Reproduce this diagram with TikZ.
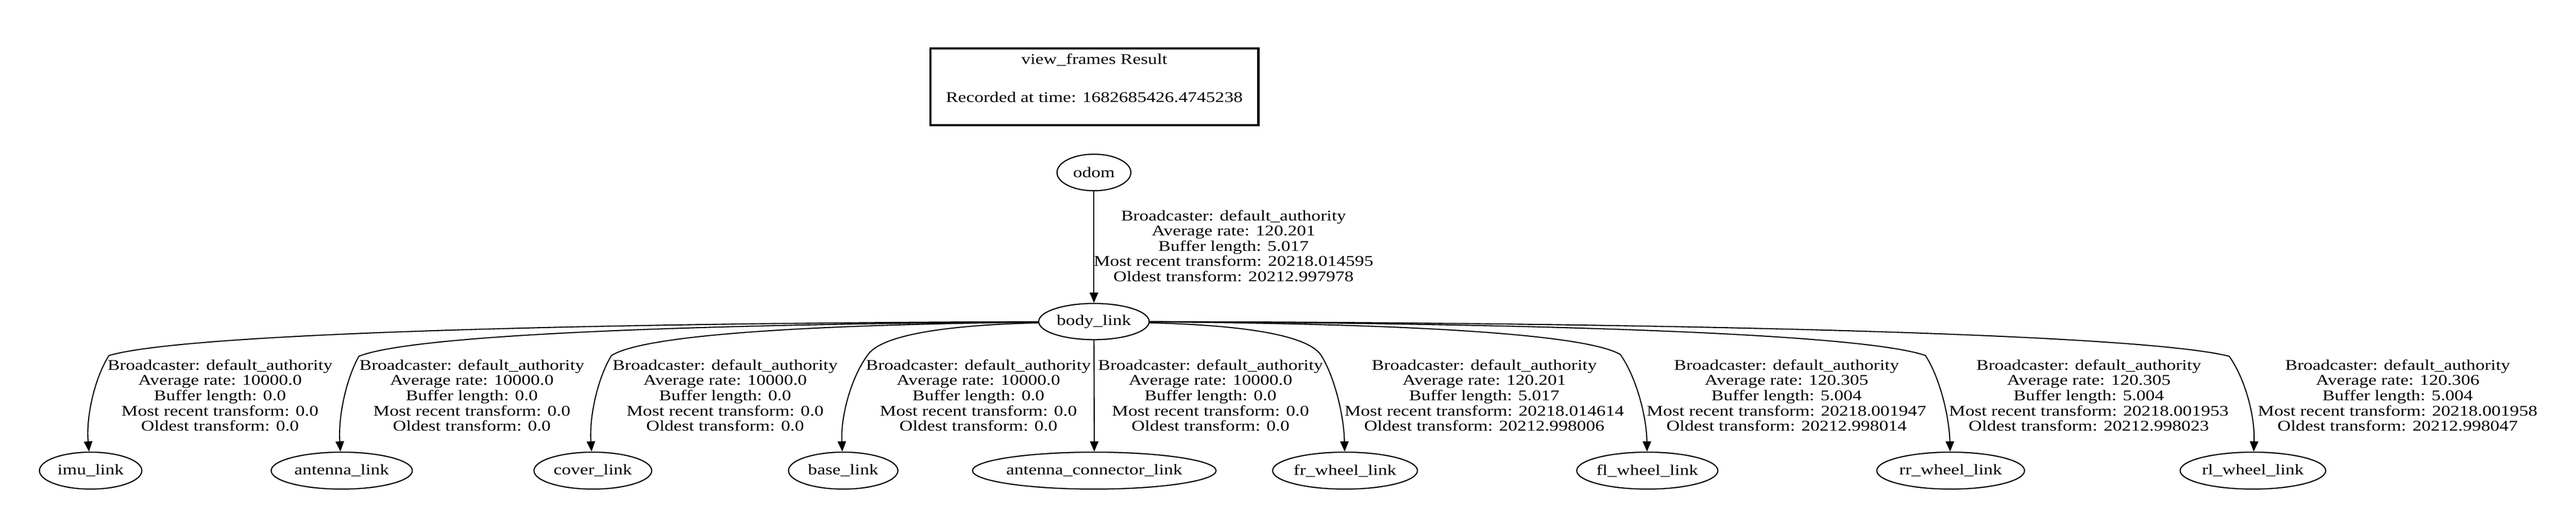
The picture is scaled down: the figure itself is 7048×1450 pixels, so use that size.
\documentclass[tikz,border=0pt]{standalone}
\usepackage{fontspec}
\setmainfont{Liberation Serif}[FakeStretch=1.24]
\usetikzlibrary{arrows.meta,shapes.geometric}
\begin{document}
\begin{tikzpicture}[x=0.01cm,y=-0.01cm,
  txt/.style={font=\fontsize{11.5}{11.85}\selectfont},
  lnk/.style={ellipse,draw,line width=0.9pt,inner sep=0pt,minimum height=1.01cm,minimum width=#1,txt},
  lbl/.style={txt,align=center,inner sep=0pt},
  tfedge/.style={line width=0.85pt,-{Triangle[length=0.28cm,width=0.23cm]}}]
\useasboundingbox (0,0) rectangle (7048,1450);
% title box
\node[draw,line width=1.7pt,minimum width=8.97cm,minimum height=2.09cm,inner sep=0pt] (title) at (2994,237.5) {};
\node[txt] (t1) at (2994,164) {view\_frames Result};
\node[txt] (t2) at (2994,266) {Recorded at time: 1682685426.4745238};
% nodes
\node[lnk=2.02cm,minimum height=1.0cm] (odom) at (2993,472) {\makebox[0pt]{odom}};
\node[lnk=3.02cm,minimum height=0.99cm] (body) at (2993,880) {\makebox[0pt]{body\_link}};
\node[lnk=2.80cm] (imu) at (248,1288) {\makebox[0pt]{imu\_link}};
\node[lnk=3.86cm] (ant) at (935,1288) {\makebox[0pt]{antenna\_link}};
\node[lnk=3.22cm] (cover) at (1622,1288) {\makebox[0pt]{cover\_link}};
\node[lnk=2.99cm] (base) at (2307,1288) {\makebox[0pt]{base\_link}};
\node[lnk=6.66cm] (acl) at (2994,1288) {\makebox[0pt]{antenna\_connector\_link}};
\node[lnk=3.96cm] (fr) at (3680,1288) {\makebox[0pt]{fr\_wheel\_link}};
\node[lnk=3.86cm] (fl) at (4507,1288) {\makebox[0pt]{fl\_wheel\_link}};
\node[lnk=4.04cm] (rr) at (5337,1288) {\makebox[0pt]{rr\_wheel\_link}};
\node[lnk=3.98cm] (rl) at (6164,1288) {\makebox[0pt]{rl\_wheel\_link}};
% edges
\draw[tfedge] (odom) -- (body);
\draw[tfedge] (body) -- (acl);
\draw[tfedge] (body) .. controls (1570,884) and (502,913) .. (298,973) .. controls (260,1033) and (235,1138) .. (imu);
\draw[tfedge] (body) .. controls (1912,887) and (1131,915) .. (982,975) .. controls (948,1035) and (925,1138) .. (ant);
\draw[tfedge] (body) .. controls (2259,888) and (1767,913) .. (1673,973) .. controls (1636,1033) and (1612,1138) .. (cover);
\draw[tfedge] (body) .. controls (2610,889) and (2411,913) .. (2373,973) .. controls (2329,1033) and (2300,1138) .. (base);
\draw[tfedge] (body) .. controls (3378,889) and (3577,913) .. (3615,973) .. controls (3652,1033) and (3677,1138) .. (fr);
\draw[tfedge] (body) .. controls (3789,885) and (4330,910) .. (4433,970) .. controls (4476,1030) and (4505,1138) .. (fl);
\draw[tfedge] (body) .. controls (4206,884) and (5098,913) .. (5268,973) .. controls (5307,1033) and (5333,1138) .. (rr);
\draw[tfedge] (body) .. controls (4622,883) and (5863,915) .. (6099,975) .. controls (6142,1035) and (6170,1138) .. (rl);
% edge labels
\node[lbl] (lodom) at (3375,673) {Broadcaster: default\_authority\\Average rate: 120.201\\Buffer length: 5.017\\Most recent transform: 20218.014595\\Oldest transform: 20212.997978};
\node[lbl] (limu) at (602,1082) {Broadcaster: default\_authority\\Average rate: 10000.0\\Buffer length: 0.0\\Most recent transform: 0.0\\Oldest transform: 0.0};
\node[lbl] (lant) at (1291,1082) {Broadcaster: default\_authority\\Average rate: 10000.0\\Buffer length: 0.0\\Most recent transform: 0.0\\Oldest transform: 0.0};
\node[lbl] (lcover) at (1984,1082) {Broadcaster: default\_authority\\Average rate: 10000.0\\Buffer length: 0.0\\Most recent transform: 0.0\\Oldest transform: 0.0};
\node[lbl] (lbase) at (2677,1082) {Broadcaster: default\_authority\\Average rate: 10000.0\\Buffer length: 0.0\\Most recent transform: 0.0\\Oldest transform: 0.0};
\node[lbl] (lacl) at (3312,1082) {Broadcaster: default\_authority\\Average rate: 10000.0\\Buffer length: 0.0\\Most recent transform: 0.0\\Oldest transform: 0.0};
\node[lbl] (lfr) at (4061,1082) {Broadcaster: default\_authority\\Average rate: 120.201\\Buffer length: 5.017\\Most recent transform: 20218.014614\\Oldest transform: 20212.998006};
\node[lbl] (lfl) at (4888,1082) {Broadcaster: default\_authority\\Average rate: 120.305\\Buffer length: 5.004\\Most recent transform: 20218.001947\\Oldest transform: 20212.998014};
\node[lbl] (lrr) at (5715,1082) {Broadcaster: default\_authority\\Average rate: 120.305\\Buffer length: 5.004\\Most recent transform: 20218.001953\\Oldest transform: 20212.998023};
\node[lbl] (lrl) at (6560,1082) {Broadcaster: default\_authority\\Average rate: 120.306\\Buffer length: 5.004\\Most recent transform: 20218.001958\\Oldest transform: 20212.998047};
\end{tikzpicture}
\end{document}
